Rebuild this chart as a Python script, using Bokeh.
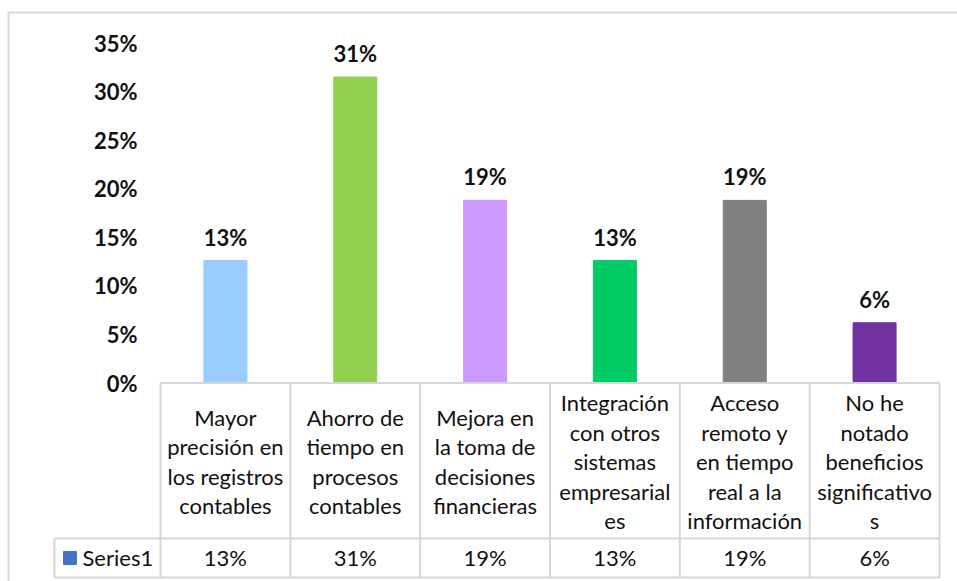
from bokeh.plotting import figure
from bokeh.models import Range1d, LinearAxis, FixedTicker, NumeralTickFormatter
from bokeh.core.properties import value
from bokeh.embed import file_html
from bokeh.resources import INLINE

# ---------------- data ----------------
categories = [
    "Mayor\nprecisión en\nlos registros\ncontables",
    "Ahorro de\ntiempo en\nprocesos\ncontables",
    "Mejora en\nla toma de\ndecisiones\nfinancieras",
    "Integración\ncon otros\nsistemas\nempresarial\nes",
    "Acceso\nremoto y\nen tiempo\nreal a la\ninformación",
    "No he\nnotado\nbeneficios\nsignificativo\ns",
]
values = [0.126, 0.315, 0.188, 0.126, 0.188, 0.062]
value_labels = ["13%", "31%", "19%", "13%", "19%", "6%"]
bar_colors = ["#99CCFF", "#92D050", "#CC99FF", "#00CC66", "#808080", "#7030A0"]
y_ticks = [0, 0.05, 0.10, 0.15, 0.20, 0.25, 0.30, 0.35]
series_name = "Series1"
series_color = "#4472C4"

# ---------------- layout (canvas pixels) ----------------
W, H = 957, 581
COL_LEFT = 160.0          # canvas x of first category column
COL_W = 779.0 / 6         # width of one category column
Y0 = 382.5                # canvas y of value 0
PX_PER_UNIT = 340.0 / 0.35
LINE_H = 29.5             # line spacing of category text
CAT_MID = 461.0           # vertical centre of category row
ROW_MID = 557.0           # vertical centre of series row

def dx(cx):
    return (cx - COL_LEFT) / COL_W

def dy(cy):
    return (Y0 - cy) / PX_PER_UNIT

FONT = "Lato"
FS = "22px"
TXT = "#111111"
GRID = "#D6D6D6"

p = figure(width=W, height=H, output_backend="svg", toolbar_location=None,
           x_range=Range1d(dx(0), dx(W)), y_range=Range1d(dy(H), dy(0)),
           x_axis_location=None, y_axis_location=None, min_border=0,
           background_fill_color="white", border_fill_color="white")
p.outline_line_color = None
p.xgrid.visible = False
p.ygrid.visible = False

n = len(categories)
xs = [i + 0.5 for i in range(n)]

# bars
p.vbar(x=xs, top=values, bottom=0, width=43 / COL_W, fill_color=bar_colors,
       line_color=bar_colors, line_width=1)

# value labels above bars (centre 23.5 px above bar top)
p.text(x=xs, y=[v + 23.5 / PX_PER_UNIT for v in values], text=value_labels,
       text_align="center", text_baseline="middle",
       text_font=value(FONT), text_font_size=FS, text_font_style="bold",
       text_color=TXT)

# y axis inside the frame
yaxis = LinearAxis(ticker=FixedTicker(ticks=y_ticks),
                   formatter=NumeralTickFormatter(format="0%"),
                   fixed_location=dx(140))
yaxis.axis_line_color = None
yaxis.major_tick_line_color = None
yaxis.minor_tick_line_color = None
yaxis.major_tick_out = 0
yaxis.major_tick_in = 0
yaxis.major_label_standoff = 3
yaxis.major_label_text_font = FONT
yaxis.major_label_text_font_size = FS
yaxis.major_label_text_font_style = "bold"
yaxis.major_label_text_color = TXT
p.add_layout(yaxis, "left")

# data table lines
tbl_mid = dy(538)
tbl_bot = dy(577)
tbl_left = dx(54)
p.segment(x0=[0], y0=[0], x1=[n], y1=[0], line_color=GRID, line_width=2)
p.segment(x0=list(range(n + 1)), y0=[0] * (n + 1), x1=list(range(n + 1)),
          y1=[tbl_bot] * (n + 1), line_color=GRID, line_width=2)
p.segment(x0=[tbl_left, tbl_left, tbl_left], y0=[tbl_mid, tbl_bot, tbl_mid],
          x1=[n, n, tbl_left], y1=[tbl_mid, tbl_bot, tbl_bot],
          line_color=GRID, line_width=2)

# category labels, one text item per wrapped line
lx, ly, lt = [], [], []
for i, cat in enumerate(categories):
    lines = cat.split("\n")
    k = len(lines)
    for j, line in enumerate(lines):
        lx.append(xs[i])
        ly.append(dy(CAT_MID + (j - (k - 1) / 2) * LINE_H))
        lt.append(line)
p.text(x=lx, y=ly, text=lt, text_align="center", text_baseline="middle",
       text_font=value(FONT), text_font_size=FS, text_color=TXT)

# series row
row_y = dy(ROW_MID)
p.text(x=xs, y=[row_y] * n, text=value_labels, text_align="center",
       text_baseline="middle", text_font=value(FONT), text_font_size=FS,
       text_color=TXT)
p.text(x=[dx(82)], y=[row_y], text=[series_name], text_align="left",
       text_baseline="middle", text_font=value(FONT), text_font_size=FS,
       text_color=TXT)
p.scatter(x=[dx(69.5)], y=[dy(ROW_MID + 0.5)], marker="square", size=13,
          fill_color=series_color, line_color=series_color)

# outer chart border (top and left)
p.segment(x0=[dx(8), dx(8)], y0=[dy(12), dy(12)], x1=[dx(W), dx(8)], y1=[dy(12), dy(H)],
          line_color="#D9D9D9", line_width=2)

open("out.html", "w").write(file_html(p, INLINE))
